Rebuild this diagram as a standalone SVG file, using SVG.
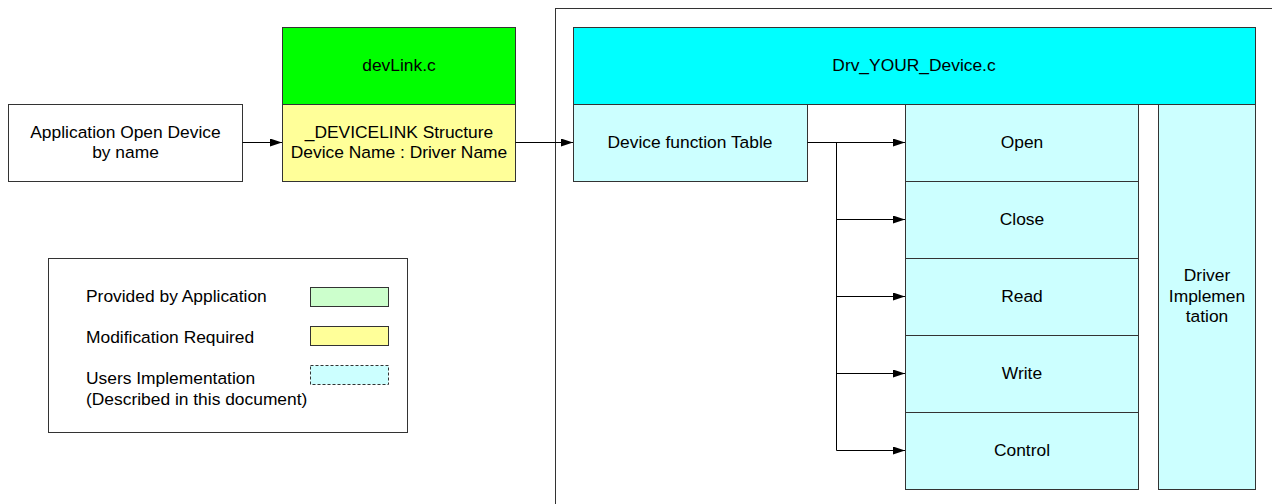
<svg xmlns="http://www.w3.org/2000/svg" width="1272" height="504" viewBox="0 0 1272 504">
<style>
.b{stroke:#333;stroke-width:1}
text{font-family:"Liberation Sans",Arial,sans-serif;font-size:17.4px;fill:#000;text-anchor:middle}
.l{text-anchor:start}
.c{fill:none;stroke:#000;stroke-width:1}
</style>
<defs>
<marker id="ah" markerWidth="12" markerHeight="8" refX="12" refY="4" orient="auto" markerUnits="userSpaceOnUse">
<path d="M0,0 L12,4 L0,8 Z" fill="#000"/>
</marker>
</defs>
<rect width="1272" height="504" fill="#fff"/>
<g id="frame"><rect class="b" x="555.5" y="8.5" width="730" height="510" fill="none"/></g>
<g id="app"><rect class="b" x="8.5" y="104.5" width="234" height="77" fill="#fff"/>
<text x="125.5" y="138">Application Open Device</text><text x="125.5" y="158">by name</text></g>
<g id="devlink"><rect class="b" x="282.5" y="27.5" width="233" height="77" fill="#00ff00"/>
<text x="399" y="71">devLink.c</text></g>
<g id="devicelink"><rect class="b" x="282.5" y="104.5" width="233" height="77" fill="#ffff99"/>
<text x="399" y="138">_DEVICELINK Structure</text><text x="399" y="158">Device Name : Driver Name</text></g>
<g id="drv"><rect class="b" x="573.5" y="27.5" width="682" height="77" fill="#00ffff"/>
<text x="914" y="71">Drv_YOUR_Device.c</text></g>
<g id="table"><rect class="b" x="573.5" y="104.5" width="234" height="77" fill="#ccffff"/>
<text x="690" y="148">Device function Table</text></g>
<g id="open"><rect class="b" x="905.5" y="104.5" width="233" height="77" fill="#ccffff"/><text x="1022" y="148">Open</text></g>
<g id="close"><rect class="b" x="905.5" y="181.5" width="233" height="77" fill="#ccffff"/><text x="1022" y="225">Close</text></g>
<g id="read"><rect class="b" x="905.5" y="258.5" width="233" height="77" fill="#ccffff"/><text x="1022" y="302">Read</text></g>
<g id="write"><rect class="b" x="905.5" y="335.5" width="233" height="77" fill="#ccffff"/><text x="1022" y="379">Write</text></g>
<g id="control"><rect class="b" x="905.5" y="412.5" width="233" height="77" fill="#ccffff"/><text x="1022" y="456">Control</text></g>
<g id="impl"><rect class="b" x="1158.5" y="104.5" width="97" height="385" fill="#ccffff"/>
<text x="1207" y="281">Driver</text><text x="1207" y="302">Implemen</text><text x="1207" y="322">tation</text></g>
<g id="legend"><rect class="b" x="48.5" y="258.5" width="359" height="174" fill="#fff"/>
<text class="l" x="86" y="302">Provided by Application</text>
<text class="l" x="86" y="343">Modification Required</text>
<text class="l" x="86" y="384">Users Implementation</text>
<text class="l" x="86" y="405">(Described in this document)</text>
<rect class="b" x="310.5" y="287.5" width="78" height="19" fill="#ccffcc"/>
<rect class="b" x="310.5" y="326.5" width="78" height="19" fill="#ffff99"/>
<rect class="b" x="310.5" y="365.5" width="78" height="19" fill="#ccffff" stroke-dasharray="3,2"/></g>
<g id="connectors">
<path class="c" d="M242.5,142.5 H282" marker-end="url(#ah)"/>
<path class="c" d="M515.5,142.5 H573" marker-end="url(#ah)"/>
<path class="c" d="M807.5,142.5 H905" marker-end="url(#ah)"/>
<path class="c" d="M836.5,142.5 V450.5"/>
<path class="c" d="M836.5,219.5 H905" marker-end="url(#ah)"/>
<path class="c" d="M836.5,296.5 H905" marker-end="url(#ah)"/>
<path class="c" d="M836.5,373.5 H905" marker-end="url(#ah)"/>
<path class="c" d="M836.5,450.5 H905" marker-end="url(#ah)"/>
</g>
</svg>
